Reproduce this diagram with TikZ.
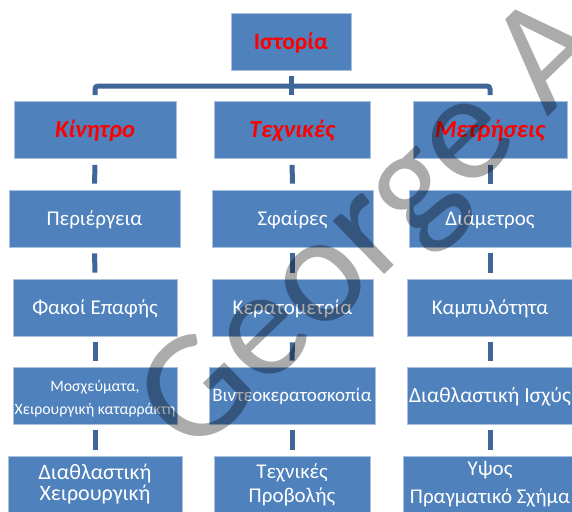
\documentclass[tikz,border=0pt]{standalone}
\usepackage{fontspec}
\setmainfont{Carlito}
\definecolor{boxblue}{HTML}{4F81BD}
\definecolor{linkblue}{HTML}{3F6699}
\definecolor{rimblue}{HTML}{A9C0DE}

\begin{document}
\begin{tikzpicture}[x=1pt, y=-1pt,
  cell/.style={rectangle, draw=rimblue, line width=0.6pt, fill=boxblue,
               minimum height=57pt, inner sep=0pt, align=center, text=white},
  box/.style={cell, font=\fontsize{21}{24}\selectfont, text height=13.5pt, text depth=0pt},
  head/.style={box, text=red, font=\fontsize{23.5}{26}\selectfont\bfseries, text height=15.1pt},
  cat/.style={head, font=\fontsize{24.5}{27}\selectfont\bfseries\itshape, text height=15.8pt},
  link/.style={draw=linkblue, line width=5pt, shorten <=6pt, shorten >=6pt},
  watermark/.style={text=black, text opacity=0.33, inner sep=0pt,
                    font=\fontsize{155}{155}\selectfont}
]
\useasboundingbox (0,0) rectangle (572,511);
\clip (0,0) rectangle (572,511);

%% ---- TOP ----
\node[head, minimum width=120pt] at (291,41.5) (ist) {Ιστορία};

%% ---- ROW 1 ----
\node[cat, minimum width=162pt] at (95,130)  (kin) {Κίνητρο};
\node[cat, minimum width=156pt] at (292,130) (tex) {Τεχνικές};
\node[cat, minimum width=154pt] at (490,130) (met) {Μετρήσεις};

%% ---- ROW 2 ----
\node[box, minimum width=171pt] at (94.5,218.5)  (per) {Περιέργεια};
\node[box, minimum width=161pt] at (292.5,218.5) (sfa) {Σφαίρες};
\node[box, minimum width=162pt] at (490,218.5)   (dia) {Διάμετρος};

%% ---- ROW 3 ----
\node[box, minimum width=164pt] at (95,307.5)    (fak) {Φακοί Επαφής};
\node[box, minimum width=161pt] at (292.5,307.5) (ker) {Κερατομετρία};
\node[box, minimum width=166pt] at (490,307.5)   (kam) {Καμπυλότητα};

%% ---- ROW 4 ----
\node[cell, minimum width=164pt, font=\fontsize{15.8}{23}\selectfont,
      text height=38pt, text depth=0pt] at (95,395.5) (mos)
  {Μοσχεύματα,\\Χειρουργική καταρράκτη};
\node[box, minimum width=166pt, font=\fontsize{19}{22}\selectfont, text height=12.2pt] at (292,395.5) (vid)
  {Βιντεοκερατοσκοπία};
\node[box, minimum width=166pt, font=\fontsize{21.5}{24}\selectfont, text height=13.8pt] at (490,395.5) (isx)
  {Διαθλαστική Ισχύς};

%% ---- ROW 5 ----
\node[cell, minimum width=174pt, font=\fontsize{22}{21}\selectfont] at (95,484.5) (dxe)
  {Διαθλαστική\\Χειρουργική};
\node[cell, minimum width=156pt, font=\fontsize{21}{24}\selectfont] at (292,484.5) (pro)
  {Τεχνικές\\Προβολής};
\node[cell, minimum width=174pt, font=\fontsize{21}{28}\selectfont] at (490,484.5) (ups)
  {Υψος\\Πραγματικό Σχήμα};

%% ---- Links ----
\coordinate (bar) at (291,86);
\draw[link] (ist.south) -- (ist.south |- tex.north);
\draw[link, rounded corners=3pt] (kin.north) -- (kin.north |- bar) -- (met.north |- bar) -- (met.north);
\draw[link] (kin) -- (per);
\draw[link] (per) -- (fak);
\draw[link] (fak) -- (mos);
\draw[link] (mos) -- (dxe);
\draw[link] (tex) -- (sfa);
\draw[link] (sfa) -- (ker);
\draw[link] (ker) -- (vid);
\draw[link] (vid) -- (pro);
\draw[link] (met) -- (dia);
\draw[link] (dia) -- (kam);
\draw[link] (kam) -- (isx);
\draw[link] (isx) -- (ups);

%% ---- Watermark ----
\node[watermark, rotate=44, anchor=base west] at (193,460) (wm) {George A};
\end{tikzpicture}
\end{document}
